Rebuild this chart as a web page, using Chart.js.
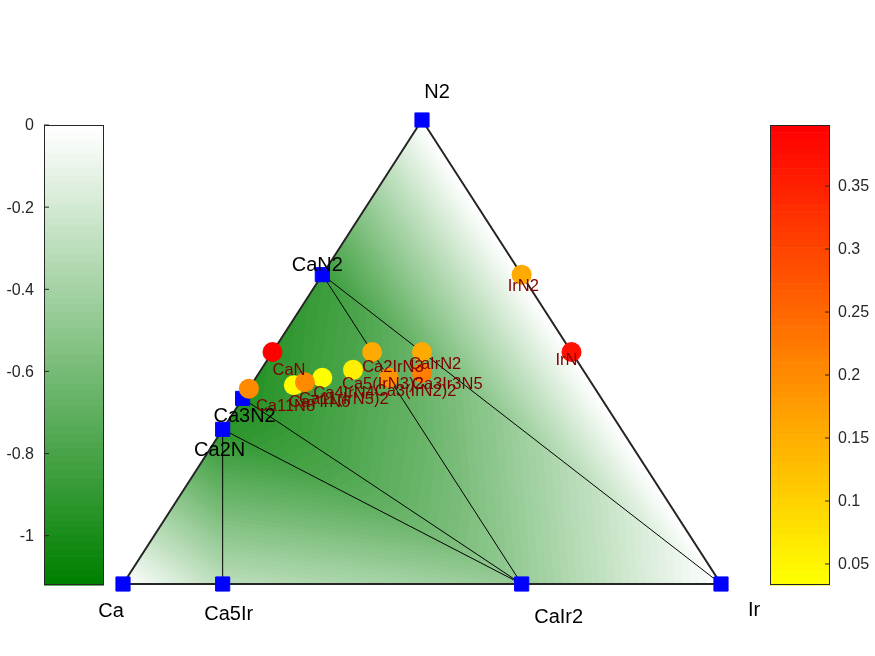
<!DOCTYPE html>
<html lang="en">
<head>
    <meta charset="UTF-8">
    <title>Ca-Ir-N phase diagram</title>
    <style>
        body {
            margin: 0;
            padding: 0;
            background-color: #fff;
        }
        #chart {
            display: block;
        }
    </style>
</head>
<body>
    <canvas id="chart" width="875" height="656"></canvas>

    <script src="https://cdn.jsdelivr.net/npm/chart.js"></script>
    <script>
        // Stable phases (on the hull): atom counts and formation energy (eV/atom)
        var stableNames  = ['Ca', 'Ca5Ir', 'CaIr2', 'Ir', 'N2', 'CaN2', 'Ca3N2', 'Ca2N'];
        var stableCa     = [1, 5, 1, 0, 0, 1, 3, 2];
        var stableIr     = [0, 1, 2, 1, 0, 0, 0, 0];
        var stableN      = [0, 0, 0, 0, 2, 2, 2, 1];
        var stableEnergy = [0, -0.30, -0.46, 0, 0, -0.86, -0.96, -0.93];

        // Hull facets, as indices into the stable lists
        var facets = [[0, 1, 7], [1, 2, 7], [7, 2, 6], [6, 2, 5], [5, 2, 3], [5, 3, 4]];

        // Unstable phases: atom counts and distance above the hull (eV/atom)
        var unstableNames = ['IrN2', 'IrN', 'CaN', 'Ca7IrN6', 'Ca4IrN4', 'Ca11(IrN5)2', 'Ca11N8',
                             'Ca5(IrN3)2', 'Ca2IrN3', 'CaIrN2', 'Ca3(IrN2)2', 'Ca3Ir3N5'];
        var unstableCa = [0, 0, 1, 7, 4, 11, 11, 5, 2, 1, 3, 3];
        var unstableIr = [1, 1, 0, 1, 1, 2, 0, 2, 1, 1, 2, 3];
        var unstableN  = [2, 1, 1, 6, 4, 10, 8, 6, 3, 2, 4, 5];
        var hullDist   = [0.155, 0.37, 0.3985, 0.04, 0.0333, 0.20, 0.20, 0.06, 0.155, 0.155, 0.19, 0.22];

        // colorbar limits and tick labels
        var energyLimits = [-1.12, 0];
        var energyTicks = [0, -0.2, -0.4, -0.6, -0.8, -1];
        var hullTicks = [0.05, 0.1, 0.15, 0.2, 0.25, 0.3, 0.35];

        // label placement (pixels from the marker)
        var stableLabelShift = {
            'Ca': [-12, 26], 'Ca5Ir': [6, 29], 'CaIr2': [37, 32], 'Ir': [33, 25],
            'N2': [15, -29], 'CaN2': [-5, -11], 'Ca3N2': [2, 16], 'Ca2N': [-3, 19]
        };
        var unstableLabelShift = {
            'IrN2': [-14, 10], 'IrN': [-16, 7], 'CaN': [0, 17], 'Ca7IrN6': [-5, 16],
            'Ca4IrN4': [-9, 14], 'Ca11(IrN5)2': [-6, 16], 'Ca11N8': [7, 16],
            'Ca5(IrN3)2': [-11, 13], 'Ca2IrN3': [-10, 14], 'CaIrN2': [-13, 11],
            'Ca3(IrN2)2': [-14, 12], 'Ca3Ir3N5': [-10, 10]
        };

        var FONT = '"Liberation Sans", Arial, sans-serif';
        var NLEV = 64;

        // ternary composition -> cartesian (Ca bottom left, Ir bottom right, N top)
        function toXY(ca, ir, n) {
            var tot = ca + ir + n;
            return { x: ir / tot + 0.5 * n / tot, y: n / tot };
        }

        var stablePts = stableNames.map(function (s, i) {
            return toXY(stableCa[i], stableIr[i], stableN[i]);
        });
        var unstablePts = unstableNames.map(function (s, i) {
            return toXY(unstableCa[i], unstableIr[i], unstableN[i]);
        });

        var eMin = energyLimits[0];
        var eMax = energyLimits[1];
        var hMin = Math.min.apply(null, hullDist);
        var hMax = Math.max.apply(null, hullDist);

        // white -> green colormap, index 0 = most negative
        function greenColor(idx) {
            var t = idx / (NLEV - 1);
            return [Math.round(255 * t), Math.round(128 + 127 * t), Math.round(255 * t)];
        }
        // yellow -> red colormap, index 0 = smallest
        function hotColor(idx) {
            var t = idx / (NLEV - 1);
            return [255, Math.round(255 * (1 - t)), 0];
        }
        function levelOf(v, lo, hi) {
            var k = Math.floor((v - lo) / (hi - lo) * NLEV);
            return Math.max(0, Math.min(NLEV - 1, k));
        }
        function rgb(c) { return 'rgb(' + c[0] + ',' + c[1] + ',' + c[2] + ')'; }

        var circleColors = hullDist.map(function (h) { return rgb(hotColor(levelOf(h, hMin, hMax))); });

        // tie lines = unique facet edges
        var edges = [];
        facets.forEach(function (f) {
            [[f[0], f[1]], [f[1], f[2]], [f[2], f[0]]].forEach(function (e) {
                var a = Math.min(e[0], e[1]), b = Math.max(e[0], e[1]);
                if (!edges.some(function (q) { return q[0] === a && q[1] === b; })) edges.push([a, b]);
            });
        });

        var datasets = [];
        datasets.push({
            data: unstablePts,
            backgroundColor: circleColors,
            pointRadius: 10,
            pointHoverRadius: 10,
            borderWidth: 0,
            showLine: false,
            clip: false,
            order: 0
        });
        datasets.push({
            data: stablePts,
            pointStyle: 'rect',
            backgroundColor: '#0000ff',
            borderColor: '#0000ff',
            borderWidth: 1,
            pointRadius: 10,
            pointHoverRadius: 10,
            showLine: false,
            clip: false,
            order: 1
        });
        var ca = stableNames.indexOf('Ca'), ir = stableNames.indexOf('Ir'), n2 = stableNames.indexOf('N2');
        datasets.push({
            data: [stablePts[ca], stablePts[ir], stablePts[n2], stablePts[ca]],
            showLine: true,
            borderColor: '#262626',
            borderWidth: 2,
            pointRadius: 0,
            clip: false,
            order: 2
        });
        edges.forEach(function (e) {
            datasets.push({
                data: [stablePts[e[0]], stablePts[e[1]]],
                showLine: true,
                borderColor: '#000',
                borderWidth: 1,
                pointRadius: 0,
                clip: false,
                order: 3
            });
        });

        // interpolated hull energy under the triangle
        var hullShading = {
            id: 'hullShading',
            beforeDatasetsDraw: function (chart) {
                var area = chart.chartArea, xs = chart.scales.x, ys = chart.scales.y;
                var w = Math.ceil(area.right - area.left) + 2, h = Math.ceil(area.bottom - area.top) + 2;
                var x0 = Math.floor(area.left) - 1, y0 = Math.floor(area.top) - 1;
                var off = document.createElement('canvas');
                off.width = w; off.height = h;
                var octx = off.getContext('2d');
                var img = octx.createImageData(w, h);
                var tris = facets.map(function (f) {
                    return f.map(function (k) { return { p: stablePts[k], e: stableEnergy[k] }; });
                });
                for (var j = 0; j < h; j++) {
                    var vy = ys.getValueForPixel(y0 + j + 0.5);
                    for (var i = 0; i < w; i++) {
                        var vx = xs.getValueForPixel(x0 + i + 0.5);
                        for (var t = 0; t < tris.length; t++) {
                            var A = tris[t][0], B = tris[t][1], C = tris[t][2];
                            var det = (B.p.y - C.p.y) * (A.p.x - C.p.x) + (C.p.x - B.p.x) * (A.p.y - C.p.y);
                            var l1 = ((B.p.y - C.p.y) * (vx - C.p.x) + (C.p.x - B.p.x) * (vy - C.p.y)) / det;
                            var l2 = ((C.p.y - A.p.y) * (vx - C.p.x) + (A.p.x - C.p.x) * (vy - C.p.y)) / det;
                            var l3 = 1 - l1 - l2;
                            if (l1 >= -1e-4 && l2 >= -1e-4 && l3 >= -1e-4) {
                                var e = l1 * A.e + l2 * B.e + l3 * C.e;
                                var c = greenColor(levelOf(e, eMin, eMax));
                                var o = (j * w + i) * 4;
                                img.data[o] = c[0]; img.data[o + 1] = c[1]; img.data[o + 2] = c[2]; img.data[o + 3] = 255;
                                break;
                            }
                        }
                    }
                }
                octx.putImageData(img, 0, 0);
                chart.ctx.drawImage(off, x0, y0);
            }
        };

        var labelsPlugin = {
            id: 'labels',
            afterDatasetsDraw: function (chart) {
                var ctx = chart.ctx, xs = chart.scales.x, ys = chart.scales.y;
                ctx.save();
                ctx.font = '20px ' + FONT;
                ctx.fillStyle = '#000';
                ctx.textAlign = 'center';
                ctx.textBaseline = 'alphabetic';
                stableNames.forEach(function (s, i) {
                    var d = stableLabelShift[s];
                    ctx.fillText(s, xs.getPixelForValue(stablePts[i].x) + d[0],
                        ys.getPixelForValue(stablePts[i].y) + d[1] + 7.2);
                });
                ctx.font = '16.5px ' + FONT;
                ctx.fillStyle = '#800000';
                ctx.textAlign = 'left';
                unstableNames.forEach(function (s, i) {
                    var d = unstableLabelShift[s];
                    ctx.fillText(s, xs.getPixelForValue(unstablePts[i].x) + d[0],
                        ys.getPixelForValue(unstablePts[i].y) + d[1] + 5.9);
                });
                ctx.restore();
            }
        };

        // the two colorbars
        function drawBar(ctx, left, top, width, height, lo, hi, colorFn, ticks, tickSide) {
            var bandH = height / NLEV;
            for (var k = 0; k < NLEV; k++) {
                ctx.fillStyle = rgb(colorFn(NLEV - 1 - k)); // top band first
                ctx.fillRect(left, top + k * bandH, width, bandH + 0.6);
            }
            ctx.strokeStyle = '#262626';
            ctx.lineWidth = 1;
            ctx.strokeRect(left + 0.5, top + 0.5, width - 1, height - 1);
            ctx.font = '16px ' + FONT;
            ctx.fillStyle = '#262626';
            ctx.textBaseline = 'middle';
            ticks.forEach(function (v) {
                var y = top + (hi - v) / (hi - lo) * height;
                ctx.beginPath();
                if (tickSide === 'left') {
                    ctx.moveTo(left, y); ctx.lineTo(left + 5, y);
                } else {
                    ctx.moveTo(left + width, y); ctx.lineTo(left + width - 5, y);
                }
                ctx.stroke();
                if (tickSide === 'left') {
                    ctx.textAlign = 'right';
                    ctx.fillText(String(v), left - 10, y + 1);
                } else {
                    ctx.textAlign = 'left';
                    ctx.fillText(String(v), left + width + 8, y + 1);
                }
            });
        }

        var colorbars = {
            id: 'colorbars',
            afterDraw: function (chart) {
                var ctx = chart.ctx;
                ctx.save();
                drawBar(ctx, 44, 125, 60, 460, eMin, eMax, greenColor, energyTicks, 'left');
                drawBar(ctx, 770, 125, 60, 460, hMin, hMax, hotColor, hullTicks, 'right');
                ctx.restore();
            }
        };

        new Chart(document.getElementById('chart').getContext('2d'), {
            type: 'scatter',
            data: { datasets: datasets },
            options: {
                responsive: false,
                animation: false,
                events: [],
                layout: { padding: { left: 123, right: 154, top: 120, bottom: 72 } },
                scales: {
                    x: { type: 'linear', min: 0, max: 1, display: false },
                    y: { type: 'linear', min: 0, max: 1, display: false }
                },
                plugins: {
                    legend: { display: false },
                    tooltip: { enabled: false }
                }
            },
            plugins: [hullShading, labelsPlugin, colorbars]
        });
    </script>
</body>
</html>
